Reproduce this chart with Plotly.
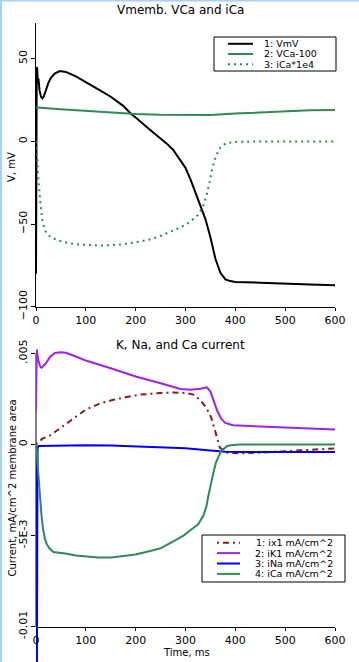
import plotly.graph_objects as go

# ---------------- data ----------------
# Top panel: Vmemb, VCa-100, iCa*1e4
t_v = [0, 1.5, 2.5, 3.5, 5, 7, 10, 13, 16, 20, 25, 30, 38, 48, 60, 80, 100, 125, 150, 175,
       192, 200, 225, 250, 262, 275, 290, 300, 310, 320, 330, 340, 350, 360, 370, 380, 390,
       400, 450, 500, 550, 600]
v_mv = [-80, 45, 44, 35, 38, 31, 27, 26, 27.5, 31, 35.5, 38.5, 41.2, 42.6, 42, 39.3, 36, 31.5,
        27, 21.5, 16.3, 14.5, 8, 1.8, -1.2, -5, -11.3, -16, -23, -31, -38.5, -47, -58, -71,
        -79.5, -83.5, -84.5, -85, -85.5, -86.2, -86.5, -87]

t_vca = [0, 2, 50, 100, 150, 200, 250, 300, 350, 400, 450, 500, 550, 600]
vca_100 = [20.5, 20.5, 19.5, 18.5, 17.3, 16.5, 16.1, 16, 16, 16.8, 17.6, 18.3, 18.8, 19]

t_ica4 = [0, 1, 2.5, 4, 6, 8, 10, 13, 17, 22, 30, 45, 62, 80, 100, 125, 150, 175, 200, 225,
          250, 270, 290, 310, 325, 335, 342, 348, 354, 360, 366, 373, 383, 400, 450, 600]
ica_1e4 = [0, -3, -10, -20, -29, -36, -41, -48, -53, -56, -58, -60, -61.3, -62.2, -62.7, -63,
           -62.8, -62.2, -61, -59.6, -57.2, -54.6, -52, -48.5, -44.5, -39.5, -33, -25, -16,
           -10, -5.5, -2.5, -1, -0.3, -0.05, 0]

# Bottom panel: currents (mA/cm^2)
t_ix1 = [0, 5, 12, 28, 68, 100, 128, 155, 182, 209, 249, 276, 302, 316, 329, 342, 352, 363,
         369, 383, 409, 450, 496, 530, 563, 600]
ix1 = [0, 0.0001, 0.0003, 0.00049, 0.00127, 0.00191, 0.00224, 0.00245, 0.0026, 0.00273,
       0.00282, 0.00285, 0.00282, 0.00273, 0.00245, 0.002, 0.00145, 0.00045, -0.00018,
       -0.00045, -0.00049, -0.00045, -0.00038, -0.00031, -0.00027, -0.00022]

t_ik1 = [0, 0.8, 1.5, 4, 8, 11, 15, 20, 28, 38, 50, 60, 80, 100, 150, 200, 250, 290, 310,
         330, 343, 350, 357, 364, 372, 380, 395, 420, 450, 500, 550, 600]
ik1 = [0.0018, 0.0052, 0.0052, 0.0047, 0.0043, 0.0042, 0.0043, 0.00445, 0.0048, 0.00502,
       0.00505, 0.00503, 0.00482, 0.0046, 0.00418, 0.00373, 0.00336, 0.00304, 0.003,
       0.00305, 0.00313, 0.0029, 0.00236, 0.00182, 0.0014, 0.00118, 0.00105, 0.00102,
       0.00098, 0.00093, 0.00087, 0.00082]

t_ina = [0, 0.3, 2.5, 3.2, 5, 50, 100, 150, 200, 250, 300, 350, 380, 420, 600]
ina = [0, -0.03, -0.0052, -0.0002, -0.00009, -0.00005, -0.00004, -0.00006, -0.0001,
       -0.00014, -0.00021, -0.00033, -0.0004, -0.00042, -0.00042]

t_ica = [0, 1.5, 3, 5, 7, 9, 11, 14, 18, 22, 27, 35, 50, 62, 80, 100, 125, 150, 175, 200,
         229, 250, 270, 296, 315, 325, 336, 342, 346, 351, 356, 361, 366, 371, 376, 383,
         390, 410, 600]
ica = [0, -0.0003, -0.001, -0.0018, -0.0025, -0.0032, -0.0039, -0.0046, -0.0052, -0.0055,
       -0.0057, -0.0059, -0.00595, -0.006, -0.0061, -0.00615, -0.0062, -0.0062, -0.0061,
       -0.00604, -0.00585, -0.0057, -0.0054, -0.005, -0.0046, -0.0044, -0.0039, -0.0034,
       -0.0028, -0.0021, -0.00155, -0.001, -0.0007, -0.0004, -0.00027, -0.0001, -0.00005,
       0, 0]

x_ticks = [0, 100, 200, 300, 400, 500, 600]
y1_ticks = [-100, -50, 0, 50]
y2_ticks = [-0.01, -0.005, 0, 0.005]
y2_ticktext = ["-0.01", "-5E-3", "0", ".005"]

legend1 = ["1: VmV", "2: VCa-100", "3: iCa*1e4"]
legend2 = ["1: ix1 mA/cm^2", "2: iK1 mA/cm^2", "3: iNa mA/cm^2", "4: iCa mA/cm^2"]

# ---------------- styling ----------------
W, H = 359, 662
FONT = "DejaVu Sans"
BLACK = "#000000"
GREEN = "#2e8b57"
PURPLE = "#a020f0"
BLUE = "#0000ff"
BROWN = "#8b1a1a"
DOT = "2px,4px"
DASHDOT = "2px,4px,6px,4px"


def px_x(p):
    return p / W


def px_y(p):
    return 1 - p / H


fig = go.Figure()

fig.add_trace(go.Scatter(x=t_v, y=v_mv, mode="lines", line=dict(color=BLACK, width=2),
                         xaxis="x", yaxis="y", name=legend1[0]))
fig.add_trace(go.Scatter(x=t_vca, y=vca_100, mode="lines", line=dict(color=GREEN, width=2),
                         xaxis="x", yaxis="y", name=legend1[1]))
fig.add_trace(go.Scatter(x=t_ica4, y=ica_1e4, mode="lines",
                         line=dict(color=GREEN, width=2, dash=DOT),
                         xaxis="x", yaxis="y", name=legend1[2]))

fig.add_trace(go.Scatter(x=t_ix1, y=ix1, mode="lines",
                         line=dict(color=BROWN, width=2, dash=DASHDOT),
                         xaxis="x2", yaxis="y2", name=legend2[0]))
fig.add_trace(go.Scatter(x=t_ik1, y=ik1, mode="lines", line=dict(color=PURPLE, width=2),
                         xaxis="x2", yaxis="y2", name=legend2[1]))
fig.add_trace(go.Scatter(x=t_ina, y=ina, mode="lines", line=dict(color=BLUE, width=2),
                         xaxis="x2", yaxis="y2", name=legend2[2]))
fig.add_trace(go.Scatter(x=t_ica, y=ica, mode="lines", line=dict(color=GREEN, width=2),
                         xaxis="x2", yaxis="y2", name=legend2[3]))

x_dom = [px_x(36), px_x(335)]
tickfont = dict(family=FONT, size=11, color=BLACK)
common_x = dict(domain=x_dom, range=[0, 600], showgrid=False, zeroline=False,
                showline=True, linecolor=BLACK, linewidth=1, ticks="outside", ticklen=3,
                tickwidth=1, tickcolor=BLACK, tickvals=x_ticks, tickfont=tickfont,
                automargin=False)

fig.update_layout(
    template="none",
    width=W, height=H, margin=dict(l=0, r=0, t=0, b=0, pad=0, autoexpand=False),
    paper_bgcolor="white", plot_bgcolor="white", showlegend=False,
    xaxis=dict(common_x, anchor="y"),
    yaxis=dict(domain=[px_y(306.7), px_y(22.7)], range=[-100, 71.8], anchor="x",
               showgrid=False, zeroline=False, showline=True, linecolor=BLACK, linewidth=1,
               ticks="outside", ticklen=4, tickcolor=BLACK, tickvals=y1_ticks,
               tickangle=-90, tickfont=tickfont, automargin=False),
    xaxis2=dict(common_x, anchor="free", position=px_y(626.7)),
    yaxis2=dict(domain=[0, px_y(347.8)], range=[-0.011937, 0.0053], anchor="x2",
                showgrid=False, zeroline=False, showline=False,
                ticks="outside", ticklen=4, tickcolor=BLACK, tickvals=y2_ticks,
                ticktext=y2_ticktext, tickangle=-90, tickfont=tickfont, automargin=False),
)

shapes = []
# bottom y-axis line (only between -0.01 and .005)
shapes.append(dict(type="line", xref="paper", yref="y2", x0=px_x(36), x1=px_x(36),
                   y0=-0.01, y1=0.005, line=dict(color=BLACK, width=1), layer="below"))
# light blue window border (left and top)
shapes.append(dict(type="rect", xref="paper", yref="paper", x0=0, x1=px_x(2), y0=0, y1=1,
                   fillcolor="#a7d0f5", line=dict(width=0)))
shapes.append(dict(type="rect", xref="paper", yref="paper", x0=0, x1=1, y0=px_y(1.5), y1=1,
                   fillcolor="#a7d0f5", line=dict(width=0)))

annotations = []


def text(x, y, s, size=10, xanchor="center", angle=0):
    annotations.append(dict(x=px_x(x), y=px_y(y), xref="paper", yref="paper", text=s,
                            showarrow=False, xanchor=xanchor, yanchor="middle",
                            textangle=angle, borderpad=0,
                            font=dict(family=FONT, size=size, color=BLACK)))


# titles
text(180, 10, "Vmemb. VCa and iCa", size=12)
text(180, 345, "K, Na, and Ca current", size=12)
text(11, 167, "V, mV", size=10, angle=-90)
text(11.5, 488, "Current, mA/cm^2 membrane area", size=10, angle=-90)
text(186.5, 652, "Time, ms", size=10)

# legend 1
shapes.append(dict(type="rect", xref="paper", yref="paper", x0=px_x(214), x1=px_x(336),
                   y0=px_y(71), y1=px_y(37), line=dict(color=BLACK, width=1),
                   fillcolor="white"))
leg1_styles = [dict(color=BLACK, width=2), dict(color=GREEN, width=2),
               dict(color=GREEN, width=2, dash=DOT)]
for i, (lab, st) in enumerate(zip(legend1, leg1_styles)):
    yy = 43.8 + i * 10.2
    shapes.append(dict(type="line", xref="paper", yref="paper", x0=px_x(228), x1=px_x(253),
                       y0=px_y(yy), y1=px_y(yy), line=st))
    text(263, yy, lab, size=9.5, xanchor="left")

# legend 2
shapes.append(dict(type="rect", xref="paper", yref="paper", x0=px_x(202), x1=px_x(345),
                   y0=px_y(582), y1=px_y(535), line=dict(color=BLACK, width=1),
                   fillcolor="white"))
leg2_styles = [dict(color=BROWN, width=2, dash=DASHDOT), dict(color=PURPLE, width=2),
               dict(color=BLUE, width=2), dict(color=GREEN, width=2)]
for i, (lab, st) in enumerate(zip(legend2, leg2_styles)):
    yy = 542.7 + i * 10.4
    shapes.append(dict(type="line", xref="paper", yref="paper", x0=px_x(217), x1=px_x(240),
                       y0=px_y(yy), y1=px_y(yy), line=st))
    text(334, yy, lab, size=9.5, xanchor="right")

fig.update_layout(shapes=shapes, annotations=annotations)

fig.write_html("out.html", config={"displayModeBar": False},
               post_script="document.body.style.margin='0';document.body.style.overflow='hidden';")
